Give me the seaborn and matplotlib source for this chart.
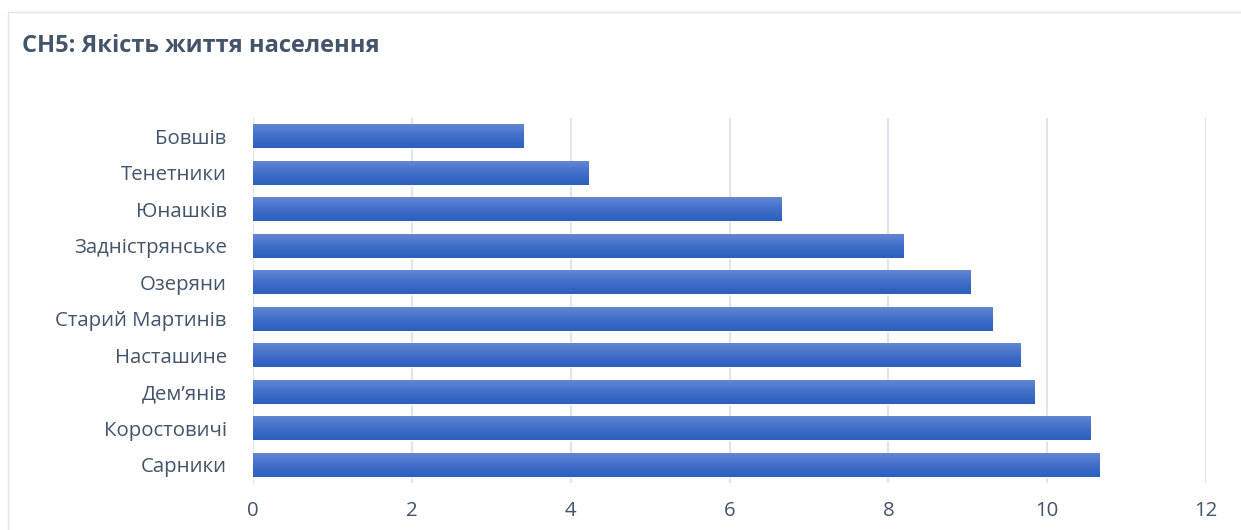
"""CH5: Якість життя населення — горизонтальні стовпці з градієнтом."""

import matplotlib

matplotlib.use("Agg")

import matplotlib.pyplot as plt
import numpy as np
import pandas as pd
import seaborn as sns
from matplotlib.colors import LinearSegmentedColormap
from matplotlib.patches import Rectangle

villages = [
    "Бовшів",
    "Тенетники",
    "Юнашків",
    "Задністрянське",
    "Озеряни",
    "Старий Мартинів",
    "Насташине",
    "Дем’янів",
    "Коростовичі",
    "Сарники",
]
scores = [3.40, 4.23, 6.66, 8.19, 9.03, 9.31, 9.67, 9.84, 10.54, 10.66]
x_ticks = [0, 2, 4, 6, 8, 10, 12]

text_color = "#44546a"
grid_color = "#e1e4e9"

sns.set_theme(style="white")
plt.rcParams["font.family"] = ["Open Sans", "Noto Sans", "DejaVu Sans"]

df = pd.DataFrame({"village": villages, "score": scores})

fig = plt.figure(figsize=(12.41, 5.30), dpi=100)
ax = fig.add_axes([0.2039, 0.0887, 0.7679, 0.6887])

sns.barplot(
    data=df, x="score", y="village", orient="h", ax=ax,
    color="#4472c4", width=0.66, zorder=2,
)

# градієнт: зверху світліше, знизу темніше
cmap = LinearSegmentedColormap.from_list("bar", ["#6888d2", "#416fca", "#2c5fbd"])
grad = np.linspace(0, 1, 64).reshape(-1, 1)
for patch in list(ax.patches):
    x0, y0 = patch.get_x(), patch.get_y()
    w, h = patch.get_width(), patch.get_height()
    im = ax.imshow(
        grad, cmap=cmap, aspect="auto", origin="upper",
        extent=(x0, x0 + w, y0 + h, y0), zorder=3,
    )
    im.set_clip_path(patch)

ax.set_xlim(0, 12)
ax.set_xticks(x_ticks)
ax.set_xticklabels([str(t) for t in x_ticks])
ax.set_ylim(9.5, -0.5)

ax.grid(axis="x", color=grid_color, linewidth=1.6, zorder=0)
ax.grid(axis="y", visible=False)
for s in ax.spines.values():
    s.set_visible(False)
ax.tick_params(axis="both", length=0, colors=text_color, labelsize=14.7)
ax.tick_params(axis="x", pad=13)
ax.tick_params(axis="y", pad=19)
ax.set_xlabel("")
ax.set_ylabel("")

fig.text(0.018, 0.913, "СН5: Якість життя населення", fontsize=17,
         fontweight="bold", color=text_color, va="center", ha="left")

# рамка діаграми
fig.patches.append(Rectangle((8 / 1241, -0.05), 1.2, (530 - 12) / 530 + 0.05,
                             transform=fig.transFigure, fill=False,
                             edgecolor=grid_color, linewidth=1.0))

fig.savefig("out.png", dpi=100)
